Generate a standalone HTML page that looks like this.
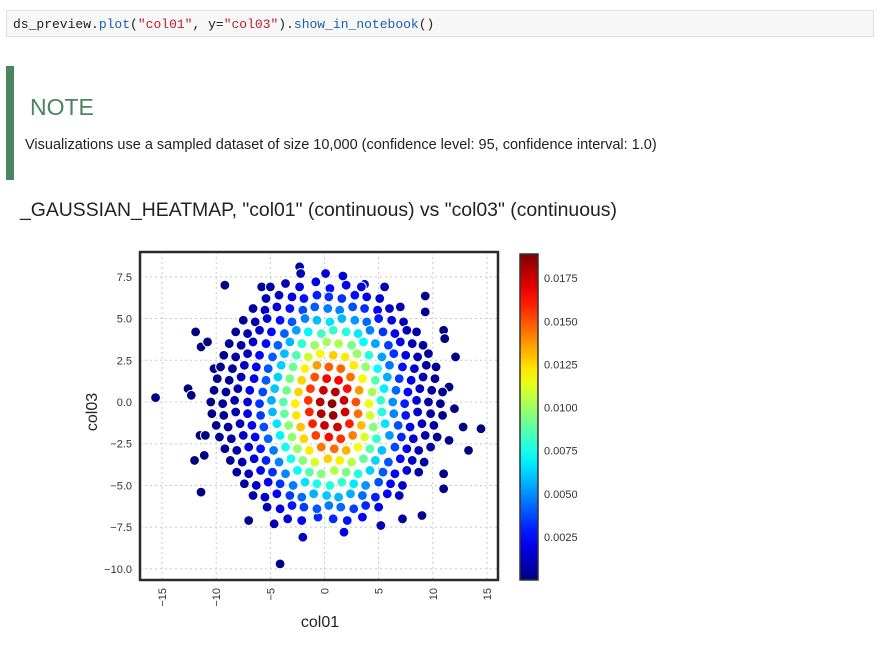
<!DOCTYPE html>
<html><head><meta charset="utf-8"><style>
body{margin:0;background:#fff;width:887px;height:646px;overflow:hidden;font-family:"Liberation Sans",sans-serif}
.code{position:absolute;left:6px;top:10px;width:868px;height:27px;background:#f7f7f7;border:1px solid #e0e0e0;font-family:"Liberation Mono",monospace;font-size:13px;line-height:27px;padding-left:6px;box-sizing:border-box;color:#222}
.note{position:absolute;left:6px;top:66px;width:8px;height:114px;background:#4b8462}
</style></head><body>
<div class="code">ds_preview.<span style="color:#1a5fb4">plot</span>(<span style="color:#c01c28">"col01"</span>, y=<span style="color:#c01c28">"col03"</span>).<span style="color:#1a5fb4">show_in_notebook</span>()</div>
<div class="note"></div>
<div style="position:absolute;left:30px;top:94px;font-size:23px;color:#4b8462">NOTE</div>
<div style="position:absolute;left:25px;top:137px;font-size:14.5px;color:#222">Visualizations use a sampled dataset of size 10,000 (confidence level: 95, confidence interval: 1.0)</div>
<div style="position:absolute;left:20px;top:199px;font-size:19.4px;color:#222">_GAUSSIAN_HEATMAP, "col01" (continuous) vs "col03" (continuous)</div>
<svg id="chart" width="887" height="646" style="position:absolute;left:0;top:0"></svg>
<script>
const xTicks=[-15,-10,-5,0,5,10,15];
const yTicks=[7.5,5.0,2.5,0.0,-2.5,-5.0,-7.5,-10.0];
const cbTicks=[0.0025,0.0050,0.0075,0.0100,0.0125,0.0150,0.0175];
const points=[
[-15.6,0.26],[-4.1,-9.7],[-2.3,8.1],[-2.2,7.7],[14.45,-1.6],[12.1,2.7],[-11.9,4.2],[-9.2,7.0],[-11.4,-5.4],[-2.0,-8.1],[1.8,-7.8],[9.3,6.35],[9.3,5.4],[13.3,-2.9],[-12.6,0.8],[-12.3,0.4],[0.1,7.7],[1.7,7.55],[3.7,7.05],[5.55,6.9],[5.2,-7.4],[-4.65,-7.3],[12.8,-1.5],[-12.0,-3.5],[-11.1,-3.2],[-11.5,-2.0],[-11.0,-2.0],[11.5,-2.3],[11.0,-4.3],[11.0,-5.2],[11.1,3.8],[11.0,4.3],[-10.2,2.0],[-10.8,3.6],[-11.4,3.3],[12.0,-0.4],[11.5,0.9],[-7.0,-7.1],[7.2,-7.0],[9.0,-6.8],[-5.0,6.9],[-5.8,6.9],
[-3.6,7.1],[-2.3,6.9],[-0.8,7.2],[0.5,6.8],[2.0,7.0],[3.4,6.9],
[-5.4,6.2],[-4.2,6.4],[-3.0,6.3],[-1.9,6.2],[-0.7,6.4],[0.4,6.3],[1.6,6.2],[2.8,6.4],[3.9,6.3],[5.1,6.2],
[-6.6,5.6],[-5.5,5.5],[-4.4,5.7],[-3.2,5.6],[-2.0,5.5],[-0.9,5.7],[0.3,5.6],[1.4,5.5],[2.6,5.7],[3.7,5.6],[4.9,5.5],[6.0,5.6],[7.0,5.7],
[-7.5,4.9],[-6.4,4.8],[-5.3,5.0],[-4.1,4.9],[-3.0,4.8],[-1.8,5.0],[-0.7,4.9],[0.5,4.8],[1.6,5.0],[2.8,4.9],[3.9,4.8],[5.0,5.0],[6.2,4.9],[7.3,4.8],
[-8.2,4.2],[-7.1,4.1],[-6.0,4.3],[-4.9,4.2],[-3.7,4.1],[-2.6,4.3],[-1.5,4.2],[-0.3,4.1],[0.8,4.3],[2.0,4.2],[3.1,4.1],[4.2,4.3],[5.4,4.2],[6.5,4.1],[7.6,4.3],[8.5,4.2],
[-8.8,3.5],[-7.7,3.4],[-6.6,3.6],[-5.4,3.5],[-4.3,3.4],[-3.2,3.6],[-2.1,3.5],[-0.9,3.4],[0.2,3.6],[1.3,3.5],[2.5,3.4],[3.6,3.6],[4.7,3.5],[5.9,3.4],[7.0,3.6],[8.1,3.5],[9.1,3.4],
[-9.3,2.8],[-8.2,2.7],[-7.1,2.9],[-6.0,2.8],[-4.8,2.7],[-3.7,2.9],[-2.6,2.8],[-1.5,2.7],[-0.4,2.9],[0.8,2.8],[1.9,2.7],[3.0,2.9],[4.1,2.8],[5.3,2.7],[6.4,2.9],[7.5,2.8],[8.6,2.7],[9.6,2.9],
[-9.6,2.1],[-8.5,2.0],[-7.4,2.2],[-6.3,2.1],[-5.2,2.0],[-4.0,2.2],[-2.9,2.1],[-1.8,2.0],[-0.7,2.2],[0.4,2.1],[1.5,2.0],[2.7,2.2],[3.8,2.1],[4.9,2.0],[6.0,2.2],[7.2,2.1],[8.3,2.0],[9.4,2.2],[10.3,2.1],
[-9.9,1.4],[-8.8,1.3],[-7.7,1.5],[-6.5,1.4],[-5.4,1.3],[-4.3,1.5],[-3.2,1.4],[-2.1,1.3],[-0.9,1.5],[0.2,1.4],[1.3,1.3],[2.4,1.5],[3.5,1.4],[4.7,1.3],[5.8,1.5],[6.9,1.4],[8.0,1.3],[9.1,1.5],[10.2,1.4],
[-10.2,0.7],[-9.1,0.6],[-8.0,0.8],[-6.9,0.7],[-5.7,0.6],[-4.6,0.8],[-3.5,0.7],[-2.4,0.6],[-1.3,0.8],[-0.1,0.7],[1.0,0.6],[2.1,0.8],[3.2,0.7],[4.4,0.6],[5.5,0.8],[6.6,0.7],[7.7,0.6],[8.8,0.8],[9.9,0.7],[10.9,0.6],
[-10.5,0.0],[-9.4,-0.1],[-8.3,0.1],[-7.1,0.0],[-6.0,-0.1],[-4.9,0.1],[-3.8,0.0],[-2.7,-0.1],[-1.5,0.1],[-0.4,0.0],[0.7,-0.1],[1.8,0.1],[2.9,0.0],[4.1,-0.1],[5.2,0.1],[6.3,0.0],[7.4,-0.1],[8.5,0.1],[9.6,0.0],[10.7,-0.1],
[-10.4,-0.7],[-9.3,-0.8],[-8.2,-0.6],[-7.1,-0.7],[-5.9,-0.8],[-4.8,-0.6],[-3.7,-0.7],[-2.6,-0.8],[-1.4,-0.6],[-0.3,-0.7],[0.8,-0.8],[1.9,-0.6],[3.1,-0.7],[4.2,-0.8],[5.3,-0.6],[6.4,-0.7],[7.5,-0.8],[8.6,-0.6],[9.8,-0.7],[10.9,-0.8],
[-10.0,-1.4],[-8.9,-1.5],[-7.8,-1.3],[-6.7,-1.4],[-5.6,-1.5],[-4.4,-1.3],[-3.3,-1.4],[-2.2,-1.5],[-1.1,-1.3],[0.0,-1.4],[1.2,-1.5],[2.3,-1.3],[3.4,-1.4],[4.5,-1.5],[5.6,-1.3],[6.8,-1.4],[7.9,-1.5],[9.0,-1.3],[10.1,-1.4],
[-9.7,-2.1],[-8.6,-2.2],[-7.5,-2.0],[-6.4,-2.1],[-5.2,-2.2],[-4.1,-2.0],[-3.0,-2.1],[-1.9,-2.2],[-0.8,-2.0],[0.4,-2.1],[1.5,-2.2],[2.6,-2.0],[3.7,-2.1],[4.8,-2.2],[6.0,-2.0],[7.1,-2.1],[8.2,-2.2],[9.3,-2.0],[10.4,-2.1],
[-9.2,-2.8],[-8.1,-2.9],[-7.0,-2.7],[-5.9,-2.8],[-4.7,-2.9],[-3.6,-2.7],[-2.5,-2.8],[-1.4,-2.9],[-0.3,-2.7],[0.9,-2.8],[2.0,-2.9],[3.1,-2.7],[4.2,-2.8],[5.3,-2.9],[6.5,-2.7],[7.6,-2.8],[8.7,-2.9],[9.8,-2.7],
[-8.7,-3.5],[-7.6,-3.6],[-6.5,-3.4],[-5.4,-3.5],[-4.2,-3.6],[-3.1,-3.4],[-2.0,-3.5],[-0.9,-3.6],[0.3,-3.4],[1.4,-3.5],[2.5,-3.6],[3.6,-3.4],[4.7,-3.5],[5.9,-3.6],[7.0,-3.4],[8.1,-3.5],[9.2,-3.6],
[-8.1,-4.2],[-7.0,-4.3],[-5.9,-4.1],[-4.8,-4.2],[-3.6,-4.3],[-2.5,-4.1],[-1.4,-4.2],[-0.3,-4.3],[0.9,-4.1],[2.0,-4.2],[3.1,-4.3],[4.2,-4.1],[5.4,-4.2],[6.5,-4.3],[7.6,-4.1],[8.7,-4.2],
[-7.4,-4.9],[-6.3,-5.0],[-5.2,-4.8],[-4.1,-4.9],[-2.9,-5.0],[-1.8,-4.8],[-0.7,-4.9],[0.5,-5.0],[1.6,-4.8],[2.7,-4.9],[3.8,-5.0],[5.0,-4.8],[6.1,-4.9],[7.2,-5.0],
[-6.6,-5.6],[-5.5,-5.7],[-4.4,-5.5],[-3.2,-5.6],[-2.1,-5.7],[-1.0,-5.5],[0.2,-5.6],[1.3,-5.7],[2.4,-5.5],[3.5,-5.6],[4.7,-5.7],[5.8,-5.5],[6.9,-5.6],
[-5.3,-6.3],[-4.1,-6.4],[-3.0,-6.2],[-1.9,-6.3],[-0.7,-6.4],[0.4,-6.2],[1.5,-6.3],[2.7,-6.4],[3.8,-6.2],[5.0,-6.3],
[-3.4,-7.0],[-2.1,-7.1],[-0.6,-6.9],[0.8,-7.0],[2.1,-7.1],[3.5,-6.9]
];
const NS='http://www.w3.org/2000/svg';
const svg=document.getElementById('chart');
function mk(t,a,p){const e=document.createElementNS(NS,t);for(const k in a)e.setAttribute(k,a[k]);(p||svg).appendChild(e);return e;}
const X0=140,X1=498,Y0=252,Y1=580;
function sx(v){return 324.5+v*10.83;}
function sy(v){return 402-v*16.69;}
const CB_TOP=254,CB_BOT=580,CB_MAX=0.0189;
function cy(v){return CB_BOT-(v/CB_MAX)*(CB_BOT-CB_TOP);}
function jet(t){t=Math.max(0,Math.min(1,t));const r=Math.min(4*t-1.5,-4*t+4.5),g=Math.min(4*t-0.5,-4*t+3.5),b=Math.min(4*t+0.5,-4*t+2.5);const c=v=>Math.round(255*Math.max(0,Math.min(1,v)));return `rgb(${c(r)},${c(g)},${c(b)})`;}
function density(x,y){const dx=x-0.6,dy=y+0.3;return 0.0187*Math.exp(-(dx*dx+dy*dy)/(2*12.5));}
const grid=mk('g',{});


xTicks.forEach(v=>{const l=mk('line',{x1:sx(v),x2:sx(v),y1:Y0,y2:Y1,stroke:'#c8c8c8','stroke-dasharray':'2,3','stroke-width':1},grid);});
yTicks.forEach(v=>{const l=mk('line',{x1:X0,x2:X1,y1:sy(v),y2:sy(v),stroke:'#c8c8c8','stroke-dasharray':'2,3','stroke-width':1},grid);});
const pts=points.map(p=>({x:p[0],y:p[1],d:density(p[0],p[1])})).sort((a,b)=>a.d-b.d);
const pg=mk('g',{});


pts.forEach(p=>{const c=mk('circle',{cx:sx(p.x),cy:sy(p.y),r:4.9,fill:jet(p.d/CB_MAX),stroke:'#fff','stroke-width':1},pg);

});
const fr=mk('rect',{x:X0,y:Y0,width:X1-X0,height:Y1-Y0,fill:'none',stroke:'#2b2b2b','stroke-width':2.5});


xTicks.forEach(v=>{const t=mk('text',{x:0,y:0,transform:`translate(${sx(v)+4},${Y1+8}) rotate(-90)`,'text-anchor':'end','font-size':11,fill:'#333','font-family':'Liberation Sans'});t.textContent=v===0?'0':(v<0?'\u2212'+(-v):''+v);

});
yTicks.forEach(v=>{const t=mk('text',{x:132,y:sy(v)+4,'text-anchor':'end','font-size':11,fill:'#333','font-family':'Liberation Sans'});t.textContent=v<0?'\u2212'+(-v).toFixed(1):v.toFixed(1);

});
const xl=mk('text',{x:320,y:627,'text-anchor':'middle','font-size':16,fill:'#222','font-family':'Liberation Sans'});xl.textContent='col01';


const yl=mk('text',{x:0,y:0,transform:'translate(97,412) rotate(-90)','text-anchor':'middle','font-size':16,fill:'#222','font-family':'Liberation Sans'});yl.textContent='col03';


const defs=mk('defs',{});const gr=mk('linearGradient',{id:'jet',x1:0,y1:1,x2:0,y2:0},defs);
for(let i=0;i<=20;i++){mk('stop',{offset:i/20,'stop-color':jet(i/20)},gr);}
const cb=mk('rect',{x:520,y:CB_TOP,width:18,height:CB_BOT-CB_TOP,fill:'url(#jet)',stroke:'#333','stroke-width':1.5});


cbTicks.forEach(v=>{const t=mk('text',{x:544,y:cy(v)+4,'font-size':11,fill:'#333','font-family':'Liberation Sans'});t.textContent=v.toFixed(4);

});
</script>
</body></html>
